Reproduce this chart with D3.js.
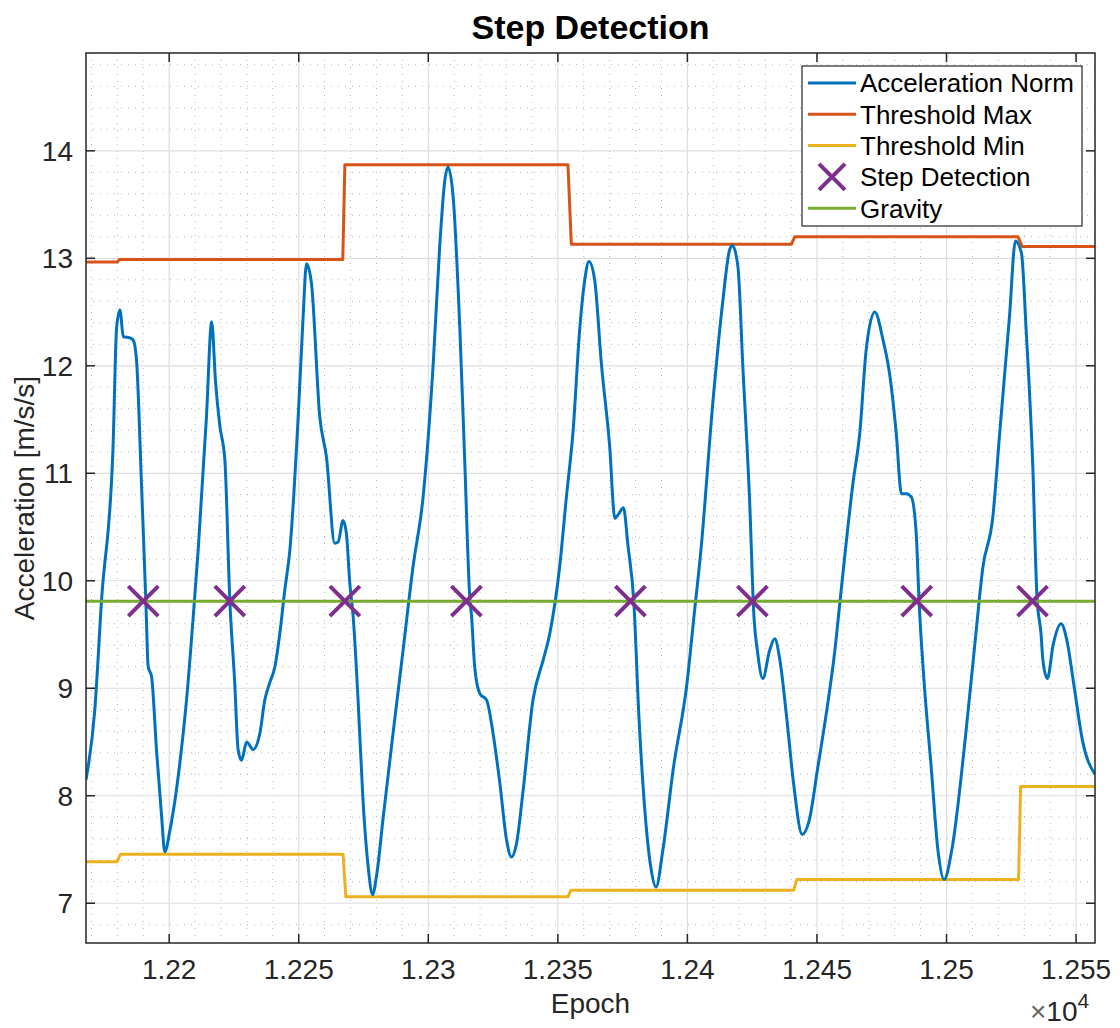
<!DOCTYPE html>
<html>

<head>
  <title>Step Detection</title>
  <meta charset="utf-8">
  <style>
    body {
      margin: 0;
      padding: 0;
      background: white;
      font-family: "Liberation Sans", Arial, Helvetica, sans-serif;
    }
    .frame {
      fill: none;
      stroke: #262626;
      stroke-width: 1.5;
    }
    .grid-major line {
      stroke: #dedede;
      stroke-width: 1.2;
    }
    .grid-minor line {
      stroke: #b5b5b5;
      stroke-width: 1;
      stroke-dasharray: 1 6;
    }
    .tick-label {
      fill: #262626;
      font-size: 28px;
    }
    .series {
      fill: none;
      stroke-width: 3;
      stroke-linejoin: round;
    }
  </style>
</head>

<body>
  <div id="chart"></div>

  <script src="https://d3js.org/d3.v7.min.js"></script>
  <script>
    // acceleration norm samples (epoch, m/s/s)
    var epochs = [
      12167.9, 12171.3, 12173.9, 12178.3, 12179.7, 12181.0, 12182.3, 12184.8, 12186.1, 12187.4,
      12189.3, 12191.0, 12191.9, 12193.2, 12195.1, 12197.1, 12198.3, 12200.3, 12204.1, 12206.7,
      12209.3, 12211.2, 12214.4, 12216.4, 12217.9, 12219.5, 12221.5, 12223.4, 12225.3, 12226.6,
      12227.9, 12229.9, 12232.4, 12235.0, 12236.9, 12238.8, 12240.8, 12242.7, 12244.6, 12246.6,
      12249.8, 12251.7, 12253.0, 12254.9, 12258.1, 12260.7, 12263.9, 12265.2, 12267.1, 12268.4,
      12269.7, 12271.0, 12272.9, 12274.8, 12276.8, 12278.5, 12280.0, 12282.6, 12286.4, 12290.3,
      12294.1, 12298.0, 12301.9, 12304.4, 12306.4, 12307.6, 12309.6, 12312.2, 12314.1, 12316.0,
      12316.7, 12317.9, 12319.9, 12322.5, 12325.0, 12327.6, 12330.2, 12332.1, 12334.0, 12336.6,
      12340.4, 12344.3, 12346.9, 12350.7, 12353.3, 12355.9, 12358.4, 12360.4, 12362.0, 12364.2,
      12366.8, 12370.0, 12372.0, 12373.4, 12375.3, 12377.1, 12379.3, 12381.3, 12383.3, 12385.9,
      12387.9, 12390.5, 12394.6, 12399.8, 12402.5, 12405.2, 12409.9, 12413.7, 12416.3, 12417.4,
      12419.5, 12421.4, 12424.0, 12425.7, 12427.0, 12429.1, 12431.7, 12433.7, 12435.7, 12438.3,
      12441.0, 12444.3, 12447.0, 12450.3, 12454.3, 12456.9, 12458.9, 12463.9, 12466.5, 12469.0,
      12472.3, 12475.5, 12478.0, 12480.6, 12482.6, 12484.5, 12486.4, 12488.3, 12489.4, 12491.4,
      12494.1, 12496.7, 12499.1, 12502.0, 12507.4, 12511.3, 12514.0, 12517.9, 12520.5, 12524.3,
      12526.6, 12528.9, 12530.8, 12533.3, 12534.9, 12536.5, 12537.2, 12538.9, 12541.2, 12544.2,
      12546.5, 12549.1, 12552.5, 12557.3
    ]
    var accelNorm = [
      8.15, 8.80, 9.82, 11.22, 12.35, 12.52, 12.27, 12.26, 12.24, 12.05,
      10.91, 9.81, 9.20, 9.11, 8.43, 7.80, 7.48, 7.68, 8.30, 8.89,
      9.67, 10.29, 11.53, 12.41, 11.85, 11.45, 11.12, 9.82, 9.05, 8.43,
      8.33, 8.50, 8.43, 8.58, 8.89, 9.05, 9.20, 9.51, 9.91, 10.29,
      11.53, 12.46, 12.95, 12.77, 11.53, 11.15, 10.35, 10.36, 10.56, 10.44,
      9.98, 9.67, 8.89, 7.96, 7.34, 7.08, 7.25, 7.80, 8.58, 9.36,
      10.13, 10.78, 12.02, 13.11, 13.73, 13.85, 13.57, 12.33, 11.09, 9.85,
      9.67, 9.20, 8.95, 8.89, 8.58, 8.12, 7.59, 7.43, 7.55, 8.05,
      8.89, 9.26, 9.51, 10.13, 10.78, 11.40, 12.33, 12.80, 12.97, 12.80,
      12.02, 11.25, 10.58, 10.62, 10.68, 10.32, 9.81, 8.73, 7.95, 7.33,
      7.15, 7.49, 8.26, 9.04, 9.66, 10.28, 11.68, 12.61, 13.08, 13.12,
      12.92, 11.99, 10.75, 9.66, 9.35, 9.09, 9.35, 9.46, 9.26, 8.73,
      8.11, 7.64, 7.77, 8.26, 8.88, 9.35, 9.81, 10.91, 11.37, 12.15,
      12.50, 12.24, 11.93, 11.37, 10.81, 10.81, 10.78, 10.44, 9.81, 9.04,
      8.26, 7.49, 7.22, 7.49, 8.57, 9.50, 10.12, 10.60, 11.37, 12.46,
      13.16, 13.05, 12.30, 11.06, 9.85, 9.50, 9.26, 9.09, 9.41, 9.60,
      9.44, 9.04, 8.51, 8.20
    ]

    // adaptive thresholds (step functions)
    var threshMaxEpoch = [12167.9, 12180.0, 12180.8, 12267.0, 12267.8, 12353.9, 12355.2, 12440.1, 12441.4, 12527.6, 12529.2, 12557.3]
    var threshMax = [12.965, 12.965, 12.99, 12.99, 13.87, 13.87, 13.13, 13.13, 13.20, 13.20, 13.11, 13.11]
    var threshMinEpoch = [12167.9, 12179.8, 12181.2, 12267.1, 12268.2, 12353.9, 12355.0, 12441.0, 12442.2, 12527.8, 12528.6, 12557.3]
    var threshMin = [7.385, 7.385, 7.455, 7.455, 7.06, 7.06, 7.12, 7.12, 7.22, 7.22, 8.085, 8.085]

    // detected steps
    var stepEpochs = [12190.0, 12223.4, 12267.8, 12314.7, 12378.0, 12425.1, 12488.5, 12533.2]
    var gravity = 9.81

    // axes
    var xDomain = [12167.9, 12557.3]
    var yDomain = [6.63, 14.91]
    var xTicks = [12200, 12250, 12300, 12350, 12400, 12450, 12500, 12550]
    var yTicks = [7, 8, 9, 10, 11, 12, 13, 14]

    var legendLabels = ["Acceleration Norm", "Threshold Max", "Threshold Min", "Step Detection", "Gravity"]
    var legendColors = ["#0072BD", "#D95319", "#EDB120", "#7E2F8E", "#77AC30"]

    var width = 1120,
      height = 1028
    var margin = { top: 53, right: 25, bottom: 85, left: 86 }
    var plotW = width - margin.left - margin.right,
      plotH = height - margin.top - margin.bottom

    var svg = d3.select("#chart")
      .append("svg")
      .attr("width", width)
      .attr("height", height)

    var x = d3.scaleLinear().domain(xDomain).range([0, plotW])
    var y = d3.scaleLinear().domain(yDomain).range([plotH, 0])

    var g = svg.append("g")
      .attr("transform", "translate(" + margin.left + "," + margin.top + ")")

    svg.append("defs").append("clipPath")
      .attr("id", "plot-clip")
      .append("rect")
      .attr("width", plotW)
      .attr("height", plotH)

    // minor grid (dotted)
    var xMinor = d3.range(12170, 12557, 10).filter(function (d) { return d % 50 != 0 })
    var yMinor = d3.range(6.8, 14.9, 0.2).filter(function (d) { return Math.abs(d - Math.round(d)) > 0.05 })

    var minor = g.append("g").attr("class", "grid-minor")
    minor.selectAll(".vx").data(xMinor).enter().append("line")
      .attr("x1", x).attr("x2", x)
      .attr("y1", 0).attr("y2", plotH)
    minor.selectAll(".hy").data(yMinor).enter().append("line")
      .attr("x1", 0).attr("x2", plotW)
      .attr("y1", y).attr("y2", y)

    // major grid
    var major = g.append("g").attr("class", "grid-major")
    major.selectAll(".vx").data(xTicks).enter().append("line")
      .attr("x1", x).attr("x2", x)
      .attr("y1", 0).attr("y2", plotH)
    major.selectAll(".hy").data(yTicks).enter().append("line")
      .attr("x1", 0).attr("x2", plotW)
      .attr("y1", y).attr("y2", y)

    // series
    var plot = g.append("g").attr("clip-path", "url(#plot-clip)")

    var line = d3.line()
      .x(function (d) { return x(d[0]) })
      .y(function (d) { return y(d[1]) })

    plot.append("path")
      .datum(d3.zip(threshMaxEpoch, threshMax))
      .attr("class", "series")
      .attr("stroke", legendColors[1])
      .attr("d", line)

    plot.append("path")
      .datum(d3.zip(threshMinEpoch, threshMin))
      .attr("class", "series")
      .attr("stroke", legendColors[2])
      .attr("d", line)

    plot.append("path")
      .datum(d3.zip(epochs, accelNorm))
      .attr("class", "series")
      .attr("stroke", legendColors[0])
      .attr("d", line.curve(d3.curveMonotoneX))

    plot.append("path")
      .datum([[xDomain[0], gravity], [xDomain[1], gravity]])
      .attr("class", "series")
      .attr("stroke", legendColors[4])
      .attr("d", d3.line().x(function (d) { return x(d[0]) }).y(function (d) { return y(d[1]) }))

    // x markers for the detected steps
    function crossPath(cx, cy, s) {
      return "M" + (cx - s) + "," + (cy - s) + "L" + (cx + s) + "," + (cy + s) +
        "M" + (cx - s) + "," + (cy + s) + "L" + (cx + s) + "," + (cy - s)
    }
    plot.selectAll(".step")
      .data(stepEpochs)
      .enter().append("path")
      .attr("class", "step")
      .attr("d", function (d) { return crossPath(x(d), y(gravity), 15) })
      .attr("stroke", legendColors[3])
      .attr("stroke-width", 4)
      .attr("fill", "none")

    // frame and ticks (inside, mirrored on all four sides)
    g.append("rect")
      .attr("class", "frame")
      .attr("width", plotW)
      .attr("height", plotH)

    var tickLen = 9
    var ticks = g.append("g").attr("stroke", "#262626").attr("stroke-width", 1.5)
    xTicks.forEach(function (d) {
      ticks.append("line").attr("x1", x(d)).attr("x2", x(d)).attr("y1", plotH).attr("y2", plotH - tickLen)
      ticks.append("line").attr("x1", x(d)).attr("x2", x(d)).attr("y1", 0).attr("y2", tickLen)
    })
    yTicks.forEach(function (d) {
      ticks.append("line").attr("x1", 0).attr("x2", tickLen).attr("y1", y(d)).attr("y2", y(d))
      ticks.append("line").attr("x1", plotW).attr("x2", plotW - tickLen).attr("y1", y(d)).attr("y2", y(d))
    })

    // tick labels
    var xFmt = d3.format(".4~f")
    g.selectAll(".xlab")
      .data(xTicks)
      .enter().append("text")
      .attr("class", "tick-label")
      .attr("x", x)
      .attr("y", plotH + 36)
      .attr("text-anchor", "middle")
      .text(function (d) { return xFmt(d / 1e4) })

    g.selectAll(".ylab")
      .data(yTicks)
      .enter().append("text")
      .attr("class", "tick-label")
      .attr("x", -13)
      .attr("y", y)
      .attr("dy", "0.36em")
      .attr("text-anchor", "end")
      .text(function (d) { return d })

    // exponent note under the x axis
    var expo = svg.append("text")
      .attr("class", "tick-label")
      .attr("x", 1030)
      .attr("y", 1021)
    expo.append("tspan").attr("fill", "#666").text("\u00d7")
    expo.append("tspan").text("10")
    expo.append("tspan").attr("dy", -13).attr("font-size", "21px").text("4")

    // axis labels and title
    svg.append("text")
      .attr("x", margin.left + plotW / 2)
      .attr("y", 1013)
      .attr("text-anchor", "middle")
      .attr("fill", "#262626")
      .attr("font-size", "28px")
      .text("Epoch")

    svg.append("text")
      .attr("transform", "translate(34," + (margin.top + plotH / 2) + ") rotate(-90)")
      .attr("text-anchor", "middle")
      .attr("fill", "#262626")
      .attr("font-size", "28px")
      .text("Acceleration [m/s/s]")

    svg.append("text")
      .attr("x", margin.left + plotW / 2)
      .attr("y", 39)
      .attr("text-anchor", "middle")
      .attr("font-size", "34px")
      .attr("font-weight", "bold")
      .attr("fill", "black")
      .text("Step Detection")

    // legend
    var legend = svg.append("g")
      .attr("transform", "translate(802,66)")

    legend.append("rect")
      .attr("width", 280)
      .attr("height", 160)
      .attr("fill", "white")
      .attr("stroke", "#262626")
      .attr("stroke-width", 1.2)

    var items = legend.selectAll(".item")
      .data(legendLabels)
      .enter().append("g")
      .attr("transform", function (d, i) { return "translate(0," + (17 + i * 31.3) + ")" })

    items.each(function (d, i) {
      var item = d3.select(this)
      if (i == 3) {
        item.append("path")
          .attr("d", crossPath(30, 0, 13))
          .attr("stroke", legendColors[i])
          .attr("stroke-width", 4)
      } else {
        item.append("line")
          .attr("x1", 6).attr("x2", 54)
          .attr("stroke", legendColors[i])
          .attr("stroke-width", 3)
      }
      item.append("text")
        .attr("x", 58)
        .attr("dy", "0.36em")
        .attr("font-size", "26px")
        .attr("fill", "black")
        .text(d)
    })
  </script>
</body>

</html>
